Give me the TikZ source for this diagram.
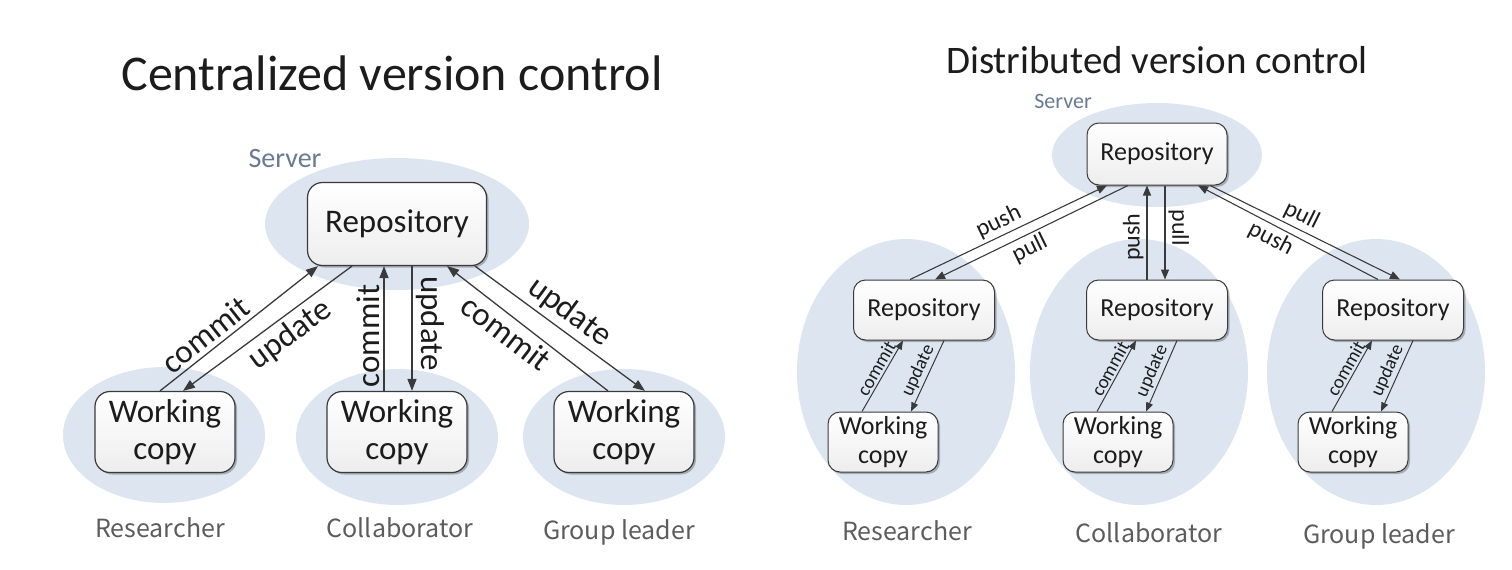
\documentclass[tikz,border=0pt]{standalone}
\usepackage{fontspec}
\setmainfont{Carlito}
\newfontfamily\rolefont{Noto Sans CJK JP}
\usetikzlibrary{arrows.meta,shadows}

\definecolor{zone}{RGB}{221,230,240}
\definecolor{servertext}{RGB}{104,122,146}
\definecolor{roletext}{RGB}{92,92,92}
\definecolor{edge}{RGB}{58,58,58}
\definecolor{ink}{RGB}{28,28,28}

\begin{document}
\begin{tikzpicture}[x = 1pt, y = 1pt,
        box/.style = {draw = edge, line width = 1.2, rounded corners = 15,
                top color = white, bottom color = black!7, text = ink, align = center,
                drop shadow = {shadow xshift = 2, shadow yshift = -2, opacity = 0.25, fill = black}},
        bigbox/.style = {box, font = \fontsize{33}{37}\selectfont, inner sep = 2},
        smallbox/.style = {box, line width = 1, rounded corners = 12, font = \fontsize{26}{29}\selectfont, inner sep = 2},
        flow/.style = {draw = edge, line width = 1.3, -{Triangle[length = 12pt, width = 9pt]}},
        thinflow/.style = {draw = edge, line width = 1.1, -{Triangle[length = 10pt, width = 8pt]}},
        tinyflow/.style = {draw = edge, line width = 1, -{Triangle[length = 9pt, width = 7pt]}},
        lblC/.style = {font = \fontsize{33}{40}\selectfont, text = ink, inner sep = 4},
        lblD/.style = {font = \fontsize{24}{29}\selectfont, text = ink, inner sep = 3},
        lblS/.style = {font = \fontsize{19}{23}\selectfont, text = ink, inner sep = 2},
        role/.style = {font = \rolefont\fontsize{25}{30}\selectfont, text = roletext, anchor = base},
        server/.style = {text = servertext, anchor = base}]

        \useasboundingbox (0, 0) rectangle (1512, -570);

        \fill[zone] (397, -224) ellipse [x radius = 132, y radius = 66];
        \foreach \x/\y in {164/-435, 397/-437, 624/-437}
            \fill[zone] (\x, \y) ellipse [x radius = 101, y radius = 68];

        \fill[zone] (1157, -155) ellipse [x radius = 105, y radius = 52];
        \foreach \x in {906, 1139, 1376}
            \fill[zone] (\x, -372) ellipse [x radius = 109, y radius = 133];

        \node[font = \fontsize{50}{60}\selectfont, text = ink, anchor = base] (titleC) at (392, -90) {Centralized version control};
        \node[font = \fontsize{39}{47}\selectfont, text = ink, anchor = base] (titleD) at (1157, -73) {Distributed version control};

        \node[server, font = \fontsize{28}{34}\selectfont] (serverC) at (285, -167) {Server};
        \node[server, font = \fontsize{22}{26}\selectfont] (serverD) at (1063, -108) {Server};

        \node[bigbox, minimum width = 179, minimum height = 83] (repoC) at (397, -224) {Repository};

        \foreach \n/\x in {A/165, B/397, C/624}
            \node[bigbox, minimum width = 140, minimum height = 81] (wc\n) at (\x, -432) {Working\\copy};

        \draw[flow] ([xshift = -5]wcA.north) -- ([xshift = -79]repoC.south)
            node[lblC, pos = 0.35, sloped, above] {commit};
        \draw[flow] ([xshift = -45]repoC.south) -- ([xshift = 18]wcA.north)
            node[lblC, pos = 0.43, sloped, below] {update};

        \draw[flow] ([xshift = -13]wcB.north) -- ([xshift = -13]repoC.south)
            node[lblC, pos = 0.44, rotate = 90, anchor = south] {commit};
        \draw[flow] ([xshift = 15]repoC.south) -- ([xshift = 15]wcB.north)
            node[lblC, pos = 0.46, rotate = -90, anchor = south] {update};

        \draw[flow] ([xshift = -16]wcC.north) -- ([xshift = 50]repoC.south)
            node[lblC, pos = 0.57, sloped, below] {commit};
        \draw[flow] ([xshift = 78]repoC.south) -- ([xshift = 21]wcC.north)
            node[lblC, pos = 0.49, sloped, above] {update};

        \node[role] (roleA) at (160, -537) {Researcher};
        \node[role] (roleB) at (400, -537) {Collaborator};
        \node[role] (roleC) at (619, -539) {Group leader};

        \node[smallbox, minimum width = 140, minimum height = 62] (repoS) at (1157, -154) {Repository};

        \foreach \n/\x/\w in {1/924/883, 2/1157/1118, 3/1393/1353}{
                \node[smallbox, minimum width = 141, minimum height = 60] (repo\n) at (\x, -310) {Repository};
                \node[smallbox, minimum width = 110, minimum height = 60] (work\n) at (\w, -442) {Working\\copy};
                \draw[tinyflow] ([xshift = -21]work\n.north) -- ([xshift = -21]repo\n.south)
                    node[lblS, pos = 0.54, sloped, above] {commit};
                \draw[tinyflow] ([xshift = 20]repo\n.south) -- ([xshift = 28]work\n.north)
                    node[lblS, pos = 0.49, sloped, above] {update};
            }

        \draw[thinflow] ([xshift = -14]repo1.north) -- ([xshift = -50]repoS.south)
            node[lblD, pos = 0.48, sloped, above] {push};
        \draw[thinflow] ([xshift = -29]repoS.south) -- ([xshift = 11]repo1.north)
            node[lblD, pos = 0.54, sloped, below] {pull};

        \draw[thinflow] ([xshift = -10]repo2.north) -- ([xshift = -10]repoS.south)
            node[lblD, pos = 0.45, rotate = 90, anchor = south] {push};
        \draw[thinflow] ([xshift = 8]repoS.south) -- ([xshift = 8]repo2.north)
            node[lblD, pos = 0.45, rotate = -90, anchor = south] {pull};

        \draw[thinflow] ([xshift = 53]repoS.south) -- ([xshift = 7]repo3.north)
            node[lblD, pos = 0.45, sloped, above] {pull};
        \draw[thinflow] ([xshift = -15]repo3.north) -- ([xshift = 41]repoS.south)
            node[lblD, pos = 0.56, sloped, below] {push};

        \node[role] (roleD) at (907, -540) {Researcher};
        \node[role] (roleE) at (1149, -542) {Collaborator};
        \node[role] (roleF) at (1379, -543) {Group leader};

    \end{tikzpicture}
\end{document}
